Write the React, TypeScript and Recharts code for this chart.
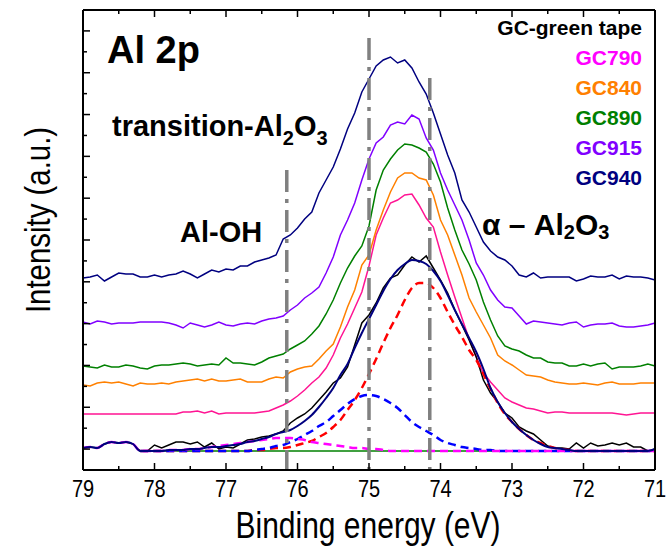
import React from 'react';
import { LineChart, Line, XAxis, YAxis, ReferenceLine } from 'recharts';

const FONT = '"Liberation Sans", Arial, Helvetica, sans-serif';

// Binding energy grid (eV)
const ENERGY = [
  79.0, 78.9, 78.8, 78.7, 78.6, 78.5, 78.4, 78.3, 78.2, 78.1,
  78.0, 77.9, 77.8, 77.7, 77.6, 77.5, 77.4, 77.3, 77.2, 77.1,
  77.0, 76.9, 76.8, 76.7, 76.6, 76.5, 76.4, 76.3, 76.2, 76.1,
  76.0, 75.9, 75.8, 75.7, 75.6, 75.5, 75.4, 75.3, 75.2, 75.1,
  75.0, 74.9, 74.8, 74.7, 74.6, 74.5, 74.4, 74.3, 74.2, 74.1,
  74.0, 73.9, 73.8, 73.7, 73.6, 73.5, 73.4, 73.3, 73.2, 73.1,
  73.0, 72.9, 72.8, 72.7, 72.6, 72.5, 72.4, 72.3, 72.2, 72.1,
  72.0, 71.9, 71.8, 71.7, 71.6, 71.5, 71.4, 71.3, 71.2, 71.1,
  71.0,
];

const GC940 = [
  192, 193, 195, 189, 193, 197, 196, 196, 193, 193,
  195, 193, 195, 196, 199, 196, 192, 196, 200, 198,
  201, 200, 204, 204, 208, 210, 212, 215, 231, 235,
  242, 251, 258, 277, 290, 303, 321, 341, 357, 378,
  391, 404, 410, 413, 407, 410, 402, 388, 376, 357,
  336, 315, 297, 270, 258, 243, 228, 219, 213, 210,
  204, 195, 193, 197, 192, 193, 193, 193, 193, 189,
  191, 194, 193, 193, 195, 191, 194, 193, 193, 192,
  190,
];

const GC915 = [
  148, 146, 149, 148, 146, 147, 147, 147, 148, 148,
  148, 148, 147, 145, 142, 147, 145, 143, 145, 148,
  145, 144, 146, 147, 146, 149, 151, 152, 154, 160,
  165, 172, 177, 183, 197, 213, 235, 250, 267, 290,
  311, 327, 333, 345, 348, 346, 355, 351, 332, 320,
  297, 280, 265, 250, 230, 207, 195, 180, 170, 163,
  162, 154, 146, 149, 148, 147, 146, 145, 147, 148,
  143, 145, 146, 146, 147, 144, 143, 143, 144, 145,
  147,
];

const GC890 = [
  104, 103, 102, 105, 103, 103, 105, 104, 102, 101,
  104, 105, 105, 106, 107, 106, 104, 105, 106, 105,
  112, 107, 107, 106, 105, 108, 112, 114, 116, 121,
  125, 129, 136, 144, 156, 170, 187, 202, 214, 224,
  244, 280, 300, 311, 320, 326, 325, 322, 318, 306,
  288, 262, 240, 220, 206, 190, 168, 150, 134, 124,
  121, 119, 115, 112, 112, 108, 107, 107, 104, 104,
  106, 104, 106, 107, 101, 103, 103, 103, 104, 106,
  104,
];

const GC840 = [
  85, 84, 87, 88, 87, 88, 86, 84, 87, 86,
  86, 87, 86, 88, 89, 90, 91, 89, 91, 89,
  89, 90, 91, 88, 88, 88, 91, 93, 92, 98,
  101, 103, 104, 111, 119, 126, 143, 163, 180, 205,
  215, 240, 260, 278, 292, 297, 297, 292, 290, 275,
  250, 235, 215, 195, 172, 158, 145, 132, 115, 109,
  105, 100, 95, 94, 93, 90, 88, 87, 86, 86,
  87, 86, 85, 87, 88, 86, 86, 86, 87, 87,
  87,
];

const GC790 = [
  56, 56, 56, 56, 56, 56, 56, 56, 56, 56,
  56, 56, 56, 56, 58, 58, 59, 57, 59, 56,
  57, 57, 57, 57, 57, 58, 59, 62, 65, 69,
  74, 80, 87, 93, 102, 115, 132, 146, 162, 178,
  204, 235, 252, 267, 270, 275, 276, 265, 252, 243,
  218, 195, 173, 152, 131, 113, 97, 88, 80, 72,
  68, 65, 62, 61, 59, 57, 58, 58, 57, 57,
  57, 57, 57, 57, 57, 56, 55, 56, 57, 57,
  57,
];

// GC-green tape: measured data, fitted envelope and components
const RAW = [
  22, 23, 22, 26, 28, 27, 28, 26, 19, 19,
  25, 22, 25, 28, 28, 26, 28, 23, 27, 21,
  23, 22, 26, 30, 31, 33, 34, 36, 39, 47,
  52, 56, 62, 70, 78, 87, 92, 103, 125, 147,
  155, 167, 182, 192, 195, 205, 213, 208, 214, 202,
  190, 177, 160, 145, 130, 113, 90, 77, 68, 57,
  52, 43, 39, 36, 30, 24, 22, 22, 21, 27,
  22, 27, 24, 25, 27, 25, 27, 23, 23, 19,
  21,
];

const FIT = [
  22, 23, 22, 26, 28, 27, 28, 26, 19, 19,
  19, 19, 20, 20, 20, 21, 21, 22, 23, 23,
  24, 25, 26, 28, 29, 31, 33, 36, 38, 40,
  44, 49, 55, 63, 72, 82, 95, 106, 122, 137,
  151, 165, 179, 191, 200, 206, 210, 209, 206, 199,
  189, 175, 160, 146, 132, 118, 101, 82, 68, 57,
  48, 41, 35, 30, 26, 23, 22, 21, 20, 19,
  19, 19, 19, 19, 19, 19, 19, 19, 19, 19,
  21,
];

const ALPHA = [
  null, null, null, null, null, null, null, null, 19, 19,
  19, 19, 19, 19, 19, 19, 19, 19, 19, 19,
  19, 19, 19, 19, 20, 20, 21, 22, 22, 23,
  25, 27, 29, 33, 37, 43, 50, 60, 70, 82,
  96, 111, 127, 142, 155, 170, 182, 187, 187, 182,
  172, 158, 145, 133, 120, 110, 96, 81, 67, 56,
  48, 41, 35, 30, 27, 24, 22, 21, 20, 19,
  19, 19, 19, 19, 19, 19, 19, 19, 19, 19,
  19,
];

const TRANS = [
  null, null, null, null, null, null, null, null, 19, 19,
  19, 19, 19, 19, 19, 19, 19, 19, 19, 19,
  19, 19, 19, 19, 20, 21, 22, 24, 25, 28,
  31, 35, 39, 44, 48, 54, 60, 66, 71, 74,
  75, 74, 71, 67, 62, 55, 48, 43, 39, 35,
  30, 27, 25, 23, 22, 21, 20, 20, 19, 19,
  19, 19, 19, 19, 19, 19, 19, 19, 19, 19,
  19, 19, 19, 19, 19, 19, 19, 19, 19, 19,
  19,
];

const ALOH = [
  22, 23, 22, 26, 28, 27, 28, 26, 19, 19,
  19, 19, 20, 20, 20, 21, 21, 22, 23, 24,
  25, 26, 27, 28, 29, 30, 31, 32, 32, 32,
  31, 30, 28, 27, 26, 25, 24, 23, 22, 22,
  21, 21, 20, 19, 19, 19, 19, 19, 19, 19,
  19, 19, 19, 19, 19, 19, 19, 19, 19, 19,
  19, 19, 19, 19, 19, 19, 19, 19, 19, 19,
  19, 19, 19, 19, 19, 19, 19, 19, 19, 19,
  19,
];

const BASE = [
  null, null, null, null, null, null, null, null, 19, 19,
  19, 19, 19, 19, 19, 19, 19, 19, 19, 19,
  19, 19, 19, 19, 19, 19, 19, 19, 19, 19,
  19, 19, 19, 19, 19, 19, 19, 19, 19, 19,
  19, 19, 19, 19, 19, 19, 19, 19, 19, 19,
  19, 19, 19, 19, 19, 19, 19, 19, 19, 19,
  19, 19, 19, 19, 19, 19, 19, 19, 19, 19,
  19, 19, 19, 19, 19, 19, 19, 19, 19, 19,
  19,
];

const X_TICKS = [79, 78.5, 78, 77.5, 77, 76.5, 76, 75.5, 75, 74.5, 74, 73.5, 73, 72.5, 72, 71.5, 71];
const Y_MAX = 460;
const Y_TICKS = Array.from({ length: 23 }, (_, k) => (k * Y_MAX) / 22);

// Peak position markers (eV) and their top heights
const MARKERS = [
  { e: 76.15, top: 300 },
  { e: 75.0, top: 432 },
  { e: 74.15, top: 392 },
];

const LEGEND = [
  { label: 'GC-green tape', color: '#000000' },
  { label: 'GC790', color: '#FF00FF' },
  { label: 'GC840', color: '#FF8000' },
  { label: 'GC890', color: '#008000' },
  { label: 'GC915', color: '#8000FF' },
  { label: 'GC940', color: '#000080' },
];

const data = ENERGY.map((e, i) => ({
  e,
  gc790: GC790[i],
  gc840: GC840[i],
  gc890: GC890[i],
  gc915: GC915[i],
  gc940: GC940[i],
  raw: RAW[i],
  fit: FIT[i],
  alpha: ALPHA[i],
  trans: TRANS[i],
  aloh: ALOH[i],
  base: BASE[i],
}));

const isMajorX = (v: number) => Math.abs(v - Math.round(v)) < 1e-6;
const isMajorY = (v: number) => Math.round((v * 22) / Y_MAX) % 2 === 1;

const BottomTick = (props: any) => {
  const { x, y, payload } = props;
  const v = payload.value;
  const major = isMajorX(v);
  return (
    <g>
      <line x1={x} y1={y} x2={x} y2={y - (major ? 7 : 4)} stroke="#000" strokeWidth={1.5} />
      {major && (
        <text
          transform={`translate(${x},${y + 27}) scale(1,1.2)`}
          textAnchor="middle"
          fontFamily={FONT}
          fontSize={20}
          fill="#000"
        >
          {Math.round(v)}
        </text>
      )}
    </g>
  );
};

const TopTick = (props: any) => {
  const { x, y, payload } = props;
  const major = isMajorX(payload.value);
  return <line x1={x} y1={y} x2={x} y2={y + (major ? 7 : 4)} stroke="#000" strokeWidth={1.5} />;
};

const LeftTick = (props: any) => {
  const { x, y, payload } = props;
  const major = isMajorY(payload.value);
  return <line x1={x} y1={y} x2={x + (major ? 7 : 4)} y2={y} stroke="#000" strokeWidth={1.5} />;
};

const RightTick = (props: any) => {
  const { x, y, payload } = props;
  const major = isMajorY(payload.value);
  return <line x1={x} y1={y} x2={x - (major ? 7 : 4)} y2={y} stroke="#000" strokeWidth={1.5} />;
};

const axisLine = { stroke: '#000', strokeWidth: 2 };

export default function App() {
  return (
    <div style={{ position: 'absolute', left: 0, top: 0, width: 667, height: 547, background: '#fff' }}>
      <LineChart width={667} height={547} data={data} margin={{ top: 9, right: 11, bottom: 76, left: 82 }}>
        <XAxis
          dataKey="e"
          type="number"
          domain={[71, 79]}
          reversed
          ticks={X_TICKS}
          interval={0}
          height={1}
          tickSize={0}
          tickMargin={0}
          tickLine={false}
          axisLine={axisLine}
          tick={<BottomTick />}
        />
        <XAxis
          xAxisId="top"
          orientation="top"
          dataKey="e"
          type="number"
          domain={[71, 79]}
          reversed
          ticks={X_TICKS}
          interval={0}
          height={1}
          tickSize={0}
          tickMargin={0}
          tickLine={false}
          axisLine={axisLine}
          tick={<TopTick />}
        />
        <YAxis
          type="number"
          domain={[0, Y_MAX]}
          ticks={Y_TICKS}
          interval={0}
          width={1}
          tickSize={0}
          tickMargin={0}
          tickLine={false}
          axisLine={axisLine}
          tick={<LeftTick />}
        />
        <YAxis
          yAxisId="right"
          orientation="right"
          type="number"
          domain={[0, Y_MAX]}
          ticks={Y_TICKS}
          interval={0}
          width={1}
          tickSize={0}
          tickMargin={0}
          tickLine={false}
          axisLine={axisLine}
          tick={<RightTick />}
        />

        <Line dataKey="gc790" type="linear" stroke="#FF1493" strokeWidth={1.5} dot={false} isAnimationActive={false} />
        <Line dataKey="gc840" type="linear" stroke="#FF8000" strokeWidth={1.5} dot={false} isAnimationActive={false} />
        <Line dataKey="gc890" type="linear" stroke="#008000" strokeWidth={1.5} dot={false} isAnimationActive={false} />
        <Line dataKey="gc915" type="linear" stroke="#8000FF" strokeWidth={1.5} dot={false} isAnimationActive={false} />
        <Line dataKey="gc940" type="linear" stroke="#000080" strokeWidth={1.5} dot={false} isAnimationActive={false} />
        <Line dataKey="base" type="linear" stroke="#008000" strokeWidth={1.5} dot={false} isAnimationActive={false} />
        <Line dataKey="raw" type="linear" stroke="#000000" strokeWidth={1.5} dot={false} isAnimationActive={false} />
        <Line dataKey="alpha" type="monotone" stroke="#FF0000" strokeWidth={2.5} strokeDasharray="8 5" dot={false} isAnimationActive={false} />
        <Line dataKey="trans" type="monotone" stroke="#0000FF" strokeWidth={2.5} strokeDasharray="8 5" dot={false} isAnimationActive={false} />
        <Line dataKey="aloh" type="monotone" stroke="#FF00FF" strokeWidth={2.5} strokeDasharray="8 5" dot={false} isAnimationActive={false} />
        <Line dataKey="fit" type="monotone" stroke="#000080" strokeWidth={2} dot={false} isAnimationActive={false} />

        {MARKERS.map((m) => (
          <ReferenceLine
            key={m.e}
            segment={[{ x: m.e, y: m.top }, { x: m.e, y: 0 }]}
            stroke="#808080"
            strokeWidth={3.5}
            strokeDasharray="22 7 4 7"
          />
        ))}
      </LineChart>

      <svg
        width={667}
        height={547}
        style={{ position: 'absolute', left: 0, top: 0, pointerEvents: 'none' }}
        fontFamily={FONT}
      >
        <text x={107} y={63} fontSize={38} fontWeight={700} fill="#000">Al 2p</text>
        <text x={112} y={136} fontSize={29} fontWeight={700} fill="#000">
          transition-Al
          <tspan dy={9} fontSize={20}>2</tspan>
          <tspan dy={-9}>O</tspan>
          <tspan dy={9} fontSize={20}>3</tspan>
        </text>
        <text x={180} y={242} fontSize={29} fontWeight={700} fill="#000">Al-OH</text>
        <text x={482} y={235} fontSize={30} fontWeight={700} fill="#000">
          α – Al
          <tspan dy={4} fontSize={20}>2</tspan>
          <tspan dy={-4}>O</tspan>
          <tspan dy={4} fontSize={20}>3</tspan>
        </text>

        {LEGEND.map((l, i) => (
          <text
            key={l.label}
            x={642}
            y={35 + i * 30}
            textAnchor="end"
            fontSize={21}
            fontWeight={700}
            fill={l.color}
          >
            {l.label}
          </text>
        ))}

        <text
          transform="translate(368,538) scale(1,1.22)"
          textAnchor="middle"
          fontSize={30}
          fill="#000"
        >
          Binding energy (eV)
        </text>
        <text
          transform="translate(50,220) rotate(-90) scale(1,1.2)"
          textAnchor="middle"
          fontSize={29.4}
          fill="#000"
        >
          Intensity (a.u.)
        </text>
      </svg>
    </div>
  );
}
